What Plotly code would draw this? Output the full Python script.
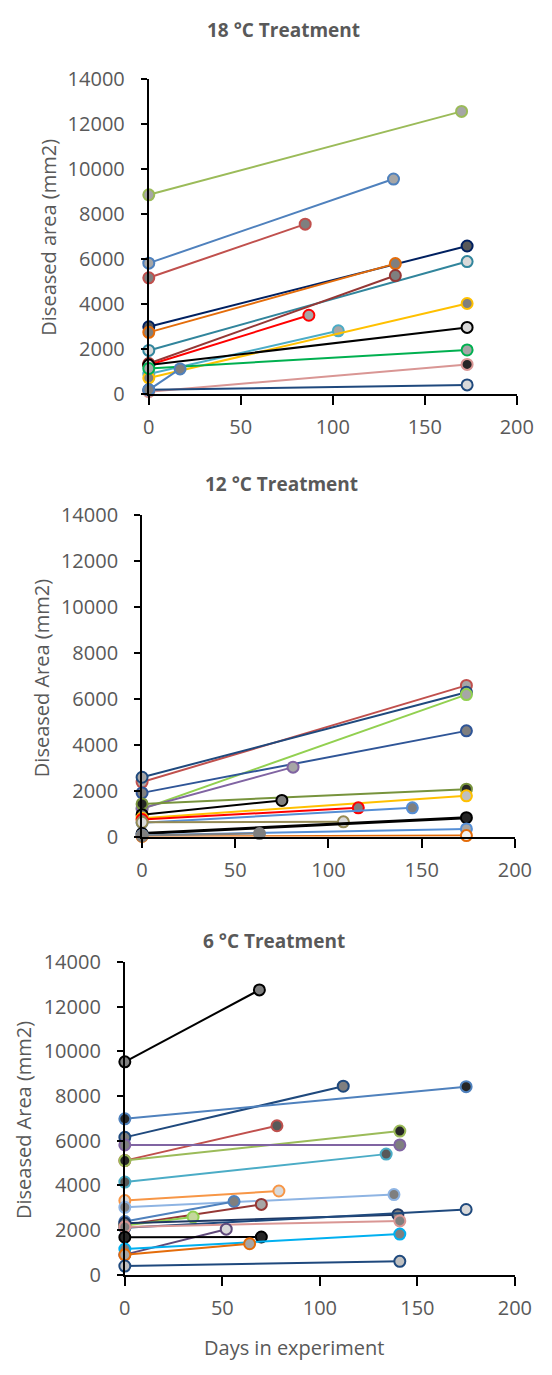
import plotly.graph_objects as go

W, H = 552, 1375

# ---------------- data ----------------
# 18 °C treatment
days_18 = [[0, 170], [0, 133], [0, 85], [0, 173], [0, 134], [0, 173], [0, 134], [0, 87],
           [0, 103], [0, 173], [0, 173], [0, 173], [0, 173], [0, 173], [0, 17]]
area_18 = [[8850, 12550], [5820, 9550], [5170, 7550], [3000, 6580], [2750, 5800],
           [1950, 5890], [1370, 5270], [1300, 3510], [900, 2820], [730, 4030],
           [1300, 2970], [1150, 1970], [120, 1330], [200, 420], [200, 1130]]

# 12 °C treatment
days_12 = [[0, 174], [0, 174], [0, 174], [0, 174], [0, 81], [0, 174], [0, 75], [0, 174],
           [0, 116], [0, 145], [0, 108], [0, 174], [0, 174], [0, 174], [0, 63]]
area_12 = [[2370, 6580], [2580, 6280], [1200, 6180], [1900, 4600], [1230, 3020],
           [1420, 2060], [950, 1570], [800, 1770], [740, 1250], [600, 1250],
           [620, 640], [130, 820], [60, 330], [0, 40], [40, 130]]

# 6 °C treatment
days_6 = [[0, 69], [0, 112], [0, 175], [0, 78], [0, 141], [0, 141], [0, 134], [0, 79],
          [0, 138], [0, 56], [0, 70], [0, 35], [0, 140], [0, 175], [0, 141], [0, 52],
          [0, 70], [0, 141], [0, 64], [0, 141]]
area_6 = [[9530, 12750], [6150, 8440], [6980, 8420], [5110, 6670], [5110, 6430],
          [5810, 5810], [4150, 5400], [3320, 3750], [3020, 3590], [2380, 3280],
          [2230, 3150], [2200, 2580], [2300, 2690], [2100, 2920], [2140, 2410],
          [900, 2040], [1680, 1690], [1150, 1820], [890, 1390], [390, 600]]

x_ticks = [0, 50, 100, 150, 200]
y_ticks = [0, 2000, 4000, 6000, 8000, 10000, 12000, 14000]
titles = ["18 °C Treatment", "12 °C Treatment", "6 °C Treatment"]
y_titles = ["Diseased area (mm2)", "Diseased Area (mm2)", "Diseased Area (mm2)"]
x_title = "Days in experiment"

# ---------------- styles ----------------
line_18 = ["#9BBB59", "#4F81BD", "#C0504D", "#002060", "#E46C0A", "#31859C", "#953735",
           "#FF0000", "#4BACC6", "#FFC000", "#000000", "#00B050", "#D99694", "#1F497D", "#4F81BD"]
fill_18 = ["#A6A6A6", "#A6A6A6", "#7F7F7F", "#595959", "#7F7F7F", "#D9D9D9", "#7F7F7F",
           "#A6A6A6", "#A6A6A6", "#7F7F7F", "#D9D9D9", "#A6A6A6", "#262626", "#D9D9D9", "#7F7F7F"]
width_18 = [2] * 15

line_12 = ["#C0504D", "#1F497D", "#92D050", "#2F5597", "#8064A2", "#77933C", "#000000",
           "#FFC000", "#FF0000", "#558ED5", "#948A54", "#000000", "#558ED5", "#E46C0A", "#7F7F7F"]
fill_12 = ["#A6A6A6", "#A6A6A6", "#A6A6A6", "#7F7F7F", "#A6A6A6", "#262626", "#7F7F7F",
           "#BFBFBF", "#7F7F7F", "#7F7F7F", "#D9D9D9", "#262626", "#A6A6A6", "#F2F2F2", "#7F7F7F"]
width_12 = [2] * 11 + [3] + [2] * 3

line_6 = ["#000000", "#1F497D", "#4F81BD", "#C0504D", "#9BBB59", "#8064A2", "#4BACC6",
          "#F79646", "#8EB4E3", "#4F81BD", "#953735", "#92D050", "#1F3864", "#1F497D",
          "#D99694", "#5F497A", "#000000", "#00B0F0", "#E46C0A", "#1F497D"]
fill_6 = ["#7F7F7F", "#7F7F7F", "#262626", "#595959", "#262626", "#7F7F7F", "#595959",
          "#D9D9D9", "#7F7F7F", "#7F7F7F", "#A6A6A6", "#C4D79B", "#7F7F7F", "#D9D9D9",
          "#7F7F7F", "#D9D9D9", "#262626", "#7F7F7F", "#A6A6A6", "#BFBFBF"]
width_6 = [2] * 20

# panel geometry in pixels: (x_left, x_right, y_top(14000), y_bottom(0))
panels = [(149, 533, 66, 388), (142, 531, 511, 839), (124, 531, 967, 1286)]
title_pos = [(290, 16), (287, 479), (280, 946)]
ytitle_pos = [(44, 228), (37, 677), (19, 1128)]

FONT = "Open Sans, Liberation Sans, sans-serif"
GREY = "#595959"

fig = go.Figure()

datasets = [(days_18, area_18, line_18, fill_18, width_18),
            (days_12, area_12, line_12, fill_12, width_12),
            (days_6, area_6, line_6, fill_6, width_6)]

for i, (dx, dy, lc, fc, lw) in enumerate(datasets):
    suffix = "" if i == 0 else str(i + 1)
    for xs, ys, c, f, w in zip(dx, dy, lc, fc, lw):
        fig.add_trace(go.Scatter(
            x=xs, y=ys, mode="lines+markers",
            line=dict(color=c, width=w),
            marker=dict(size=11, color=f, line=dict(color=c, width=2)),
            xaxis="x" + suffix, yaxis="y" + suffix,
            showlegend=False, cliponaxis=False, hoverinfo="skip"))

layout = dict(width=W, height=H, margin=dict(l=0, r=0, t=0, b=0),
              paper_bgcolor="white", plot_bgcolor="white", showlegend=False)

for i, (xl, xr, yt, yb) in enumerate(panels):
    suffix = "" if i == 0 else str(i + 1)
    layout["xaxis" + suffix] = dict(
        domain=[xl / W, xr / W], range=[0, 200], tickvals=x_ticks,
        showgrid=False, zeroline=False, showline=True, linecolor="black", linewidth=2,
        ticks="outside", ticklen=9, tickwidth=2, tickcolor="black",
        ticklabelstandoff=5,
        tickfont=dict(family=FONT, size=20, color=GREY),
        anchor="y" + suffix, fixedrange=True)
    layout["yaxis" + suffix] = dict(
        domain=[(H - yb) / H, (H - yt) / H], range=[0, 14000], tickvals=y_ticks,
        tickformat="d",
        showgrid=False, zeroline=False, showline=True, linecolor="black", linewidth=2,
        ticks="outside", ticklen=6, tickwidth=2, tickcolor="black",
        ticklabelstandoff=12,
        tickfont=dict(family=FONT, size=20, color=GREY),
        anchor="x" + suffix, fixedrange=True)

annotations = []
for (tx, ty), t in zip(title_pos, titles):
    annotations.append(dict(x=tx / W, y=(H - ty) / H, xref="paper", yref="paper",
                            text="<b>" + t + "</b>", showarrow=False,
                            font=dict(family=FONT, size=19, color=GREY),
                            xanchor="center", yanchor="middle"))
for (tx, ty), t in zip(ytitle_pos, y_titles):
    annotations.append(dict(x=tx / W, y=(H - ty) / H, xref="paper", yref="paper",
                            text=t, showarrow=False, textangle=-90,
                            font=dict(family=FONT, size=20, color=GREY),
                            xanchor="center", yanchor="middle"))
annotations.append(dict(x=301 / W, y=(H - 1360) / H, xref="paper", yref="paper",
                        text=x_title, showarrow=False,
                        font=dict(family=FONT, size=20, color=GREY),
                        xanchor="center", yanchor="middle"))
layout["annotations"] = annotations

fig.update_layout(**layout)
fig.write_html("out.html", config={"displayModeBar": False},
               post_script="document.body.style.margin='0';document.body.style.overflow='hidden';")
